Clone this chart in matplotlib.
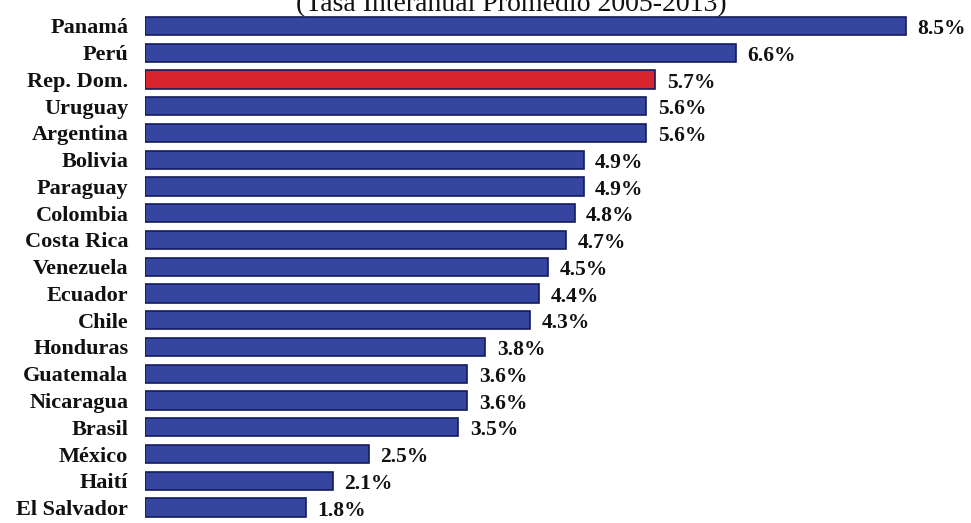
import matplotlib.pyplot as plt

paises = ['Panamá', 'Perú', 'Rep. Dom.', 'Uruguay', 'Argentina', 'Bolivia',
          'Paraguay', 'Colombia', 'Costa Rica', 'Venezuela', 'Ecuador', 'Chile',
          'Honduras', 'Guatemala', 'Nicaragua', 'Brasil', 'México', 'Haití',
          'El Salvador']
crecimiento = [8.5, 6.6, 5.7, 5.6, 5.6, 4.9, 4.9, 4.8, 4.7, 4.5, 4.4, 4.3,
               3.8, 3.6, 3.6, 3.5, 2.5, 2.1, 1.8]
destacado = 'Rep. Dom.'
titulo = '(Tasa Interanual Promedio 2005-2013)'

azul = '#3545a0'
rojo = '#d8242c'
borde = '#141c5c'

plt.rcParams['font.family'] = ['Liberation Serif', 'DejaVu Serif']

fig = plt.figure(figsize=(9.71, 5.23), dpi=100)
ax = fig.add_axes([0.1493, 0.004, 0.848, 0.972])

colores = [rojo if p == destacado else azul for p in paises]
y = list(range(len(paises)))
ax.barh(y, crecimiento, height=0.68, color=colores, edgecolor=borde, linewidth=1.2)

for yi, v in zip(y, crecimiento):
    ax.text(v + 0.13, yi + 0.12, f'{v:.1f}%', va='center', ha='left',
            fontsize=15.5, fontweight='bold', color='#111111')

ax.set_yticks(y)
ax.set_yticklabels(paises, fontsize=16, fontweight='bold', color='#111111')
ax.tick_params(axis='y', length=0, pad=12)
ax.set_xticks([])
ax.set_xlim(0, 9.2)
ax.set_ylim(len(paises) - 0.5, -0.5)
for s in ax.spines.values():
    s.set_visible(False)

# title is partly cut at the top edge, as in the scanned original
fig.text(727 / 971, 1 - 11 / 523, titulo, ha='right', va='baseline',
         fontsize=20, color='#111111')

fig.savefig('out.png', dpi=100)
